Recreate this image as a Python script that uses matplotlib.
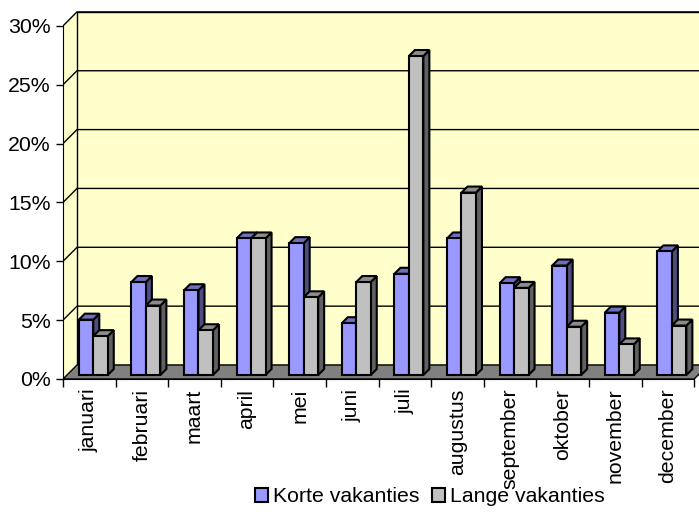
import matplotlib.pyplot as plt
from matplotlib.patches import Polygon, Patch

plt.rcParams['font.family'] = ['Liberation Sans', 'DejaVu Sans']

maanden = ['januari', 'februari', 'maart', 'april', 'mei', 'juni', 'juli',
           'augustus', 'september', 'oktober', 'november', 'december']
korte = [4.7, 7.9, 7.2, 11.6, 11.2, 4.4, 8.6, 11.6, 7.8, 9.3, 5.3, 10.5]
lange = [3.3, 5.9, 3.8, 11.6, 6.6, 7.9, 27.1, 15.5, 7.4, 4.1, 2.6, 4.2]
yticks = [0, 5, 10, 15, 20, 25, 30]

# 3D look: depth offset of the back wall in data units
DX = 0.266
DY = 1.19
Z0, Z1 = 4 / 14, 10 / 14
BW = 0.275
FS = 15.3

kleuren = {
    'korte': ('#9999FF', '#6F6FBF', '#4D4D80'),
    'lange': ('#C0C0C0', '#8C8C8C', '#606060'),
}

fig = plt.figure(figsize=(6.99, 5.12), dpi=100)
W, H = 699, 512
x_left, x_right = 63, 699
y_bot, y_top = 379, 11
ax = fig.add_axes([x_left / W, 1 - y_bot / H, (x_right - x_left) / W, (y_bot - y_top) / H])
n = len(maanden)
ax.set_xlim(-0.5, -0.5 + (x_right - x_left) / 52.6)
ax.set_ylim(0, (y_bot - y_top) / 11.77)

x0, x1 = -0.5, n - 0.5
ymax = yticks[-1]

# walls and floor
side = Polygon([(x0, 0), (x0, ymax), (x0 + DX, ymax + DY), (x0 + DX, DY)],
               facecolor='#FFFFCC', edgecolor='none', zorder=0.5)
back = Polygon([(x0 + DX, DY), (x1 + DX, DY), (x1 + DX, ymax + DY), (x0 + DX, ymax + DY)],
               facecolor='#FFFFCC', edgecolor='black', lw=1, zorder=0.5)
floor = Polygon([(x0, 0), (x1, 0), (x1 + DX, DY), (x0 + DX, DY)],
                facecolor='#808080', edgecolor='black', lw=1, zorder=0.6)
for p in (side, back, floor):
    ax.add_patch(p)

for y in yticks[1:]:
    ax.plot([x0, x0 + DX, x1 + DX], [y, y + DY, y + DY], color='black', lw=1, zorder=0.7)


def bar3d(xl, v, kl):
    front, top, zij = kl
    xa = xl + Z0 * DX
    ya = Z0 * DY
    d = (Z1 - Z0)
    ax.add_patch(Polygon([(xa + BW, ya), (xa + BW + d * DX, ya + d * DY),
                          (xa + BW + d * DX, ya + v + d * DY), (xa + BW, ya + v)],
                         facecolor=zij, edgecolor='black', lw=1.5, zorder=2))
    ax.add_patch(Polygon([(xa, ya + v), (xa + BW, ya + v),
                          (xa + BW + d * DX, ya + v + d * DY), (xa + d * DX, ya + v + d * DY)],
                         facecolor=top, edgecolor='black', lw=1.5, zorder=2))
    ax.add_patch(Polygon([(xa, ya), (xa + BW, ya), (xa + BW, ya + v), (xa, ya + v)],
                         facecolor=front, edgecolor='black', lw=1.5, zorder=2))


for i in range(n):
    bar3d(i - BW, korte[i], kleuren['korte'])
    bar3d(i, lange[i], kleuren['lange'])

# axes
for s in ('top', 'right'):
    ax.spines[s].set_visible(False)
ax.spines['left'].set_bounds(0, ymax)
ax.spines['bottom'].set_bounds(x0, x1)
ax.spines['left'].set_zorder(3)
ax.spines['bottom'].set_zorder(3)
ax.set_yticks(yticks)
ax.set_yticklabels([f'{t}%' for t in yticks], fontsize=FS)
ax.tick_params(axis='y', length=5, width=1, pad=4, direction='out')
ax.set_xticks([i - 0.5 for i in range(n + 1)])
ax.set_xticklabels([])
ax.set_xticks(range(n), minor=True)
ax.set_xticklabels(maanden, minor=True, rotation=90, fontsize=FS, va='top')
ax.tick_params(axis='x', which='major', length=6, width=1, direction='out')
ax.tick_params(axis='x', which='minor', length=0, pad=7)

handles = [Patch(facecolor=kleuren['korte'][0], edgecolor='black', lw=1.5),
           Patch(facecolor=kleuren['lange'][0], edgecolor='black', lw=1.5)]
fig.legend(handles, ['Korte vakanties', 'Lange vakanties'], loc='center',
           bbox_to_anchor=(430 / W, 1 - 497 / H), ncol=2, frameon=False,
           fontsize=FS, handlelength=0.6, handleheight=0.6, handletextpad=0.25,
           columnspacing=0.6, borderpad=0)

fig.savefig('out.png', dpi=100)
